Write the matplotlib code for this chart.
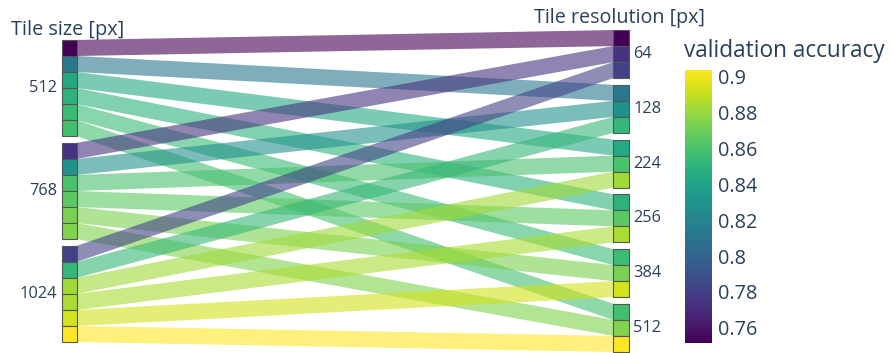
import numpy as np
import matplotlib.pyplot as plt
from matplotlib.patches import Polygon, Rectangle
from matplotlib import cm, colors

# Parallel categories: tile size -> tile resolution, coloured by validation accuracy
tile_sizes = [512, 768, 1024]
resolutions = [64, 128, 224, 256, 384, 512]

# accuracy[tile size][resolution]
acc_512 = [0.752, 0.812, 0.843, 0.850, 0.855, 0.858]
acc_768 = [0.774, 0.828, 0.860, 0.865, 0.873, 0.875]
acc_1024 = [0.781, 0.853, 0.882, 0.884, 0.893, 0.9035]
accuracy = [acc_512, acc_768, acc_1024]

vmin, vmax = 0.7516, 0.9035
cmap = plt.get_cmap("viridis")
norm = colors.Normalize(vmin=vmin, vmax=vmax)
txt_color = "#2a3f5f"
plt.rcParams["font.family"] = ["Open Sans", "DejaVu Sans"]

W, H = 895, 353
fig = plt.figure(figsize=(W / 100, H / 100), dpi=100)
ax = fig.add_axes([0, 0, 1, 1])
ax.set_xlim(0, W)
ax.set_ylim(H, 0)
ax.axis("off")

band = 16.05
gap = 6.6
center = 191.0
n_paths = len(tile_sizes) * len(resolutions)


def layout(n_cats, per_cat):
    total = n_paths * band + (n_cats - 1) * gap
    start = center - total / 2
    return [start + i * (per_cat * band + gap) for i in range(n_cats)]


left_tops = layout(len(tile_sizes), len(resolutions))
right_tops = layout(len(resolutions), len(tile_sizes))

xl0, xl1 = 62, 77
xr0, xr1 = 613, 629

# ribbons
for i, ts in enumerate(tile_sizes):
    for j, res in enumerate(resolutions):
        c = cmap(norm(accuracy[i][j]))
        yl = left_tops[i] + j * band
        yr = right_tops[j] + i * band
        poly = Polygon([(xl1, yl), (xr0, yr), (xr0, yr + band), (xl1, yl + band)],
                       closed=True, facecolor=c, alpha=0.6, edgecolor="none", zorder=1)
        ax.add_patch(poly)

# category blocks
for i, ts in enumerate(tile_sizes):
    for j, res in enumerate(resolutions):
        c = cmap(norm(accuracy[i][j]))
        yl = left_tops[i] + j * band
        yr = right_tops[j] + i * band
        ax.add_patch(Rectangle((xl0, yl), xl1 - xl0, band, facecolor=c,
                               edgecolor="#555555", linewidth=0.8, zorder=3))
        ax.add_patch(Rectangle((xr0, yr), xr1 - xr0, band, facecolor=c,
                               edgecolor="#555555", linewidth=0.8, zorder=3))

# labels
for i, ts in enumerate(tile_sizes):
    yc = left_tops[i] + len(resolutions) * band / 2
    ax.text(xl0 - 5, yc, str(ts), ha="right", va="center", fontsize=11.8, color=txt_color)
for j, res in enumerate(resolutions):
    yc = right_tops[j] + len(tile_sizes) * band / 2
    ax.text(xr1 + 4, yc, str(res), ha="left", va="center", fontsize=11.8, color=txt_color)

ax.text(11, 30, "Tile size [px]", ha="left", va="center", fontsize=14.3, color=txt_color)
ax.text(620, 18, "Tile resolution [px]", ha="center", va="center", fontsize=14.2, color=txt_color)

# colorbar
cax = fig.add_axes([685 / W, (H - 343) / H, 27 / W, 273 / H])
cb = fig.colorbar(cm.ScalarMappable(norm=norm, cmap=cmap), cax=cax)
cb.outline.set_visible(False)
ticks = [0.76, 0.78, 0.8, 0.82, 0.84, 0.86, 0.88, 0.9]
cb.set_ticks(ticks)
cb.set_ticklabels(["0.76", "0.78", "0.8", "0.82", "0.84", "0.86", "0.88", "0.9"])
cax.tick_params(length=0, pad=4, labelsize=14.3, labelcolor=txt_color)
fig.text(684 / W, 1 - 51 / H, "validation accuracy", ha="left", va="center",
         fontsize=16.3, color=txt_color)

fig.savefig("out.png", dpi=100)
